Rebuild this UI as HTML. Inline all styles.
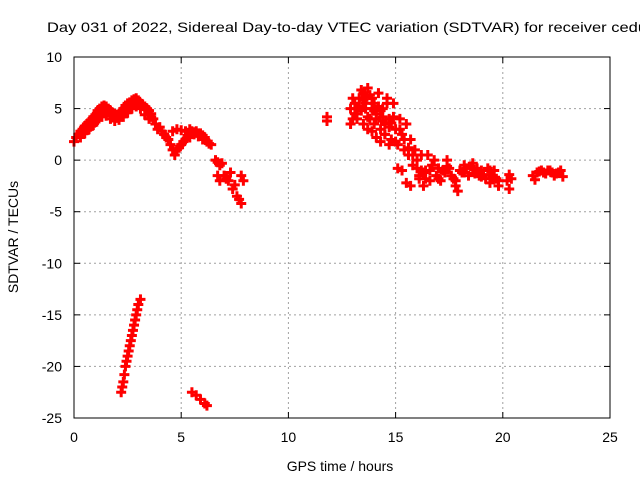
<!DOCTYPE html>
<html><head><meta charset="utf-8"><style>
body{margin:0;background:#fff}
svg{display:block;font-family:"Liberation Sans",sans-serif}
</style></head><body>
<svg id="chart" width="640" height="480" viewBox="0 0 640 480">
<rect width="640" height="480" fill="#fff"/>
<text x="47" y="32" font-size="14" fill="#000" textLength="600" lengthAdjust="spacingAndGlyphs">Day 031 of 2022, Sidereal Day-to-day VTEC variation (SDTVAR) for receiver cedu</text>
<g id="grid"></g>
<g id="points"></g>
<rect x="74" y="57" width="536" height="361" fill="none" stroke="#000" stroke-width="1"/>
<g id="axes"></g>
<text x="340" y="471" font-size="14" text-anchor="middle">GPS time / hours</text>
<text transform="translate(18,237) rotate(-90)" font-size="14" text-anchor="middle">SDTVAR / TECUs</text>
</svg>
<script>
const xTicks=[0,5,10,15,20,25];
const yTicks=[10,5,0,-5,-10,-15,-20,-25];
const times=[0,0.1,0.2,0.3,0.4,0.5,0.6,0.7,0.8,0.9,1.0,1.1,1.2,1.3,1.4,1.5,1.6,1.7,1.8,1.9,2.0,2.1,2.2,2.3,2.4,2.5,2.6,2.7,2.8,2.9,3.0,3.1,3.2,3.3,3.4,3.5,3.6,
0.3,0.5,0.7,0.9,1.1,1.3,1.5,1.7,1.9,2.1,2.3,2.5,2.7,2.9,3.1,3.3,3.5,
0.4,0.6,0.8,1.0,1.2,1.4,1.6,1.8,2.0,2.2,2.4,2.6,2.8,3.0,3.2,3.4,3.6,3.7,
3.8,4.0,4.2,4.4,4.5,4.6,4.7,4.8,5.0,5.2,5.4,5.6,5.8,6.0,6.2,6.4,4.6,4.8,5.0,5.2,5.4,5.6,5.8,6.0,6.1,
3.9,4.1,4.3,4.9,5.1,5.3,5.5,5.7,5.9,6.1,6.3,
6.6,6.7,6.8,6.9,6.7,6.8,7.0,7.2,7.4,7.6,7.8,7.8,7.9,7.3,7.5,7.1,7.7,
2.2,2.25,2.3,2.35,2.4,2.45,2.5,2.55,2.6,2.65,2.7,2.75,2.8,2.85,2.9,2.95,3.0,3.1,
5.5,5.7,5.9,6.1,6.2,
11.8,11.8,
12.9,12.9,13.0,13.1,13.2,13.3,13.4,13.5,13.6,13.7,13.8,13.9,14.0,14.0,14.1,14.2,14.3,14.4,14.5,14.6,14.7,14.8,14.9,15.0,15.1,15.2,15.3,15.4,15.5,15.6,15.7,15.8,15.9,16.0,16.1,16.2,16.3,16.4,16.5,16.6,16.7,16.8,
13.0,13.2,13.4,13.6,13.8,14.2,14.4,14.6,13.5,13.7,13.9,14.1,14.3,14.5,14.7,15.1,15.3,15.5,15.7,16.1,16.3,
13.1,13.3,13.5,13.7,13.9,14.1,14.3,14.5,14.7,14.9,15.2,15.4,15.6,15.8,16.0,16.2,16.4,16.6,13.2,13.6,14.0,14.4,14.8,15.0,
17.0,17.2,17.4,17.6,17.8,17.9,18.0,18.2,18.4,18.6,18.8,19.0,19.2,19.4,19.6,19.8,16.9,17.1,17.3,17.5,17.7,18.1,18.3,18.5,18.7,18.9,19.1,19.3,19.5,19.7,
17.0,17.4,17.8,18.2,18.6,19.0,19.4,19.8,
20.2,20.3,20.4,20.3,
21.4,21.6,21.8,22.0,22.2,22.4,22.6,22.8,21.5,21.7,21.9,22.1,22.3,22.5,22.7];
const values=[1.8,2.2,2.5,2.8,3.0,3.3,3.5,3.7,3.9,4.2,4.4,4.8,5.0,5.2,5.3,5.2,5.0,4.8,4.6,4.5,4.4,4.5,4.7,5.0,5.3,5.5,5.6,5.8,5.9,6.0,5.8,5.5,5.4,5.2,5.0,4.8,4.5,
2.2,2.6,3.0,3.4,3.9,4.2,4.3,4.0,3.8,3.9,4.2,4.6,5.0,5.2,5.0,4.4,4.0,
2.6,2.9,3.3,3.7,4.3,4.7,4.7,4.3,4.1,4.2,4.6,5.1,5.4,5.5,5.3,4.9,4.2,4.0,
3.5,3.2,2.5,2.0,1.5,1.0,0.5,1.0,1.5,2.0,2.2,2.5,2.3,2.0,1.8,1.5,2.8,3.0,2.9,2.8,3.0,2.7,2.6,2.4,2.2,
3.0,2.8,2.2,1.2,1.8,2.4,2.8,2.8,2.6,2.0,1.6,
0.0,-0.2,-0.5,-0.3,-1.5,-2.0,-1.5,-2.0,-2.8,-3.5,-4.2,-1.5,-2.0,-1.2,-2.4,-1.8,-3.8,
-22.5,-22.0,-21.5,-20.8,-20.0,-19.5,-19.0,-18.5,-18.0,-17.5,-17.0,-16.5,-16.0,-15.5,-15.0,-14.5,-14.0,-13.5,
-22.5,-22.8,-23.2,-23.6,-23.8,
4.2,3.8,
5.0,3.5,4.0,5.5,4.5,6.0,4.8,6.5,5.0,7.0,4.0,6.0,5.5,3.5,4.5,6.5,3.0,5.0,2.5,6.0,4.0,2.0,5.5,3.0,1.5,4.0,2.5,1.0,3.5,0.5,2.0,-0.5,1.0,0.0,-1.5,0.5,-2.5,-1.0,0.5,-2.0,-0.5,0.0,
6.0,5.0,6.8,5.5,6.3,5.2,4.2,5.5,3.5,3.0,2.8,2.2,1.8,2.5,1.5,-0.8,-1.0,-2.2,-2.5,-1.8,-1.2,
4.5,5.2,5.8,4.2,5.0,4.0,4.8,3.5,3.2,4.2,3.0,2.0,1.2,0.5,-0.8,-1.0,-1.8,-1.0,4.0,6.2,4.8,3.8,3.6,1.8,
-0.8,-1.0,0.0,-1.5,-2.5,-3.0,-1.0,-0.5,-1.5,-0.3,-0.8,-1.0,-1.8,-2.2,-1.0,-2.5,-1.5,-2.0,-1.2,-0.8,-1.8,-1.2,-0.8,-0.6,-1.3,-1.5,-1.4,-0.8,-1.6,-1.8,
-1.8,-0.6,-2.0,-1.2,-0.8,-1.6,-1.0,-2.0,
-2.0,-2.8,-1.8,-1.4,
-1.5,-1.2,-1.0,-1.3,-1.0,-1.5,-1.2,-1.6,-1.9,-1.1,-1.2,-1.0,-1.2,-1.3,-1.0];
const X=t=>74+t*536/25, Y=v=>57+(10-v)*361/35;
const NS="http://www.w3.org/2000/svg";
const grid=document.getElementById('grid'),axes=document.getElementById('axes'),pts=document.getElementById('points');
function mk(tag,attrs,parent){const e=document.createElementNS(NS,tag);for(const k in attrs)e.setAttribute(k,attrs[k]);parent.appendChild(e);return e;}
xTicks.forEach(t=>{const x=X(t);
 if(t>0&&t<25){const g=mk('line',{x1:x,x2:x,y1:57,y2:418,stroke:'#a0a0a0','stroke-dasharray':'2,3'},grid);
 
 }
 mk('line',{x1:x,x2:x,y1:418,y2:412,stroke:'#000'},axes);mk('line',{x1:x,x2:x,y1:57,y2:63,stroke:'#000'},axes);
 const l=mk('text',{x:x,y:442,'font-size':14,'text-anchor':'middle'},axes);l.textContent=t;
 
 });
yTicks.forEach(v=>{const y=Y(v);
 if(v<10&&v>-25){const g=mk('line',{x1:74,x2:610,y1:y,y2:y,stroke:'#a0a0a0','stroke-dasharray':'2,3'},grid);
 
 }
 mk('line',{x1:74,x2:80,y1:y,y2:y,stroke:'#000'},axes);mk('line',{x1:610,x2:604,y1:y,y2:y,stroke:'#000'},axes);
 const l=mk('text',{x:62,y:y+5,'font-size':14,'text-anchor':'end'},axes);l.textContent=v;
 
 });
times.forEach((t,i)=>{const x=X(t),y=Y(values[i]);
 const p=mk('path',{d:`M${x-5} ${y}H${x+5}M${x} ${y-5}V${y+5}`,stroke:'#ff0000','stroke-width':3,fill:'none'},pts);
 
 });
</script>
</body></html>
